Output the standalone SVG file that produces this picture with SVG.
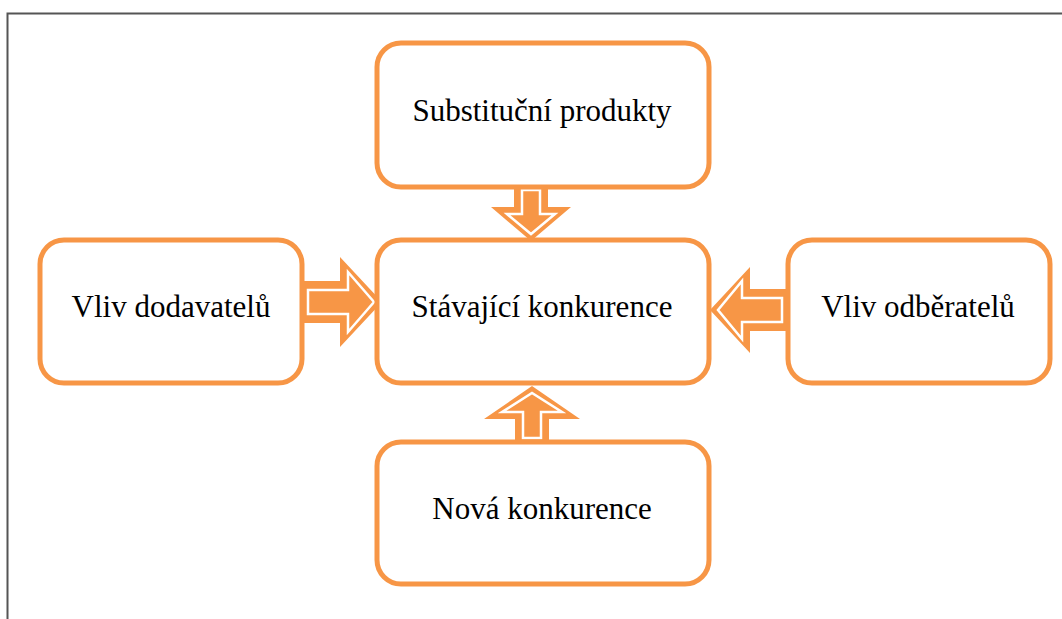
<svg xmlns="http://www.w3.org/2000/svg" width="1062" height="619" viewBox="0 0 1062 619">
<style>
.box{fill:#fff;stroke:#F79646;stroke-width:5}
.lbl{font-family:"Liberation Serif","Times New Roman",serif;font-size:31px;fill:#000;text-anchor:middle;dominant-baseline:central}
.arr{fill:#F79646}
.inner{fill:none;stroke:#fff;stroke-width:2.5;stroke-linejoin:miter}
</style>
<rect width="1062" height="619" fill="#fff"/>
<path d="M7.5 619 V13.5 H1062" fill="none" stroke="#555" stroke-width="2"/>
<g id="connectors">
<g id="arrow-top">
<path class="arr" d="M514 187 H548 V207 H571 L531 241 L491 207 H514 Z"/>
<path class="inner" d="M522 190 H540 V214 H555 L531 234 L507 214 H522 Z"/>
</g>
<g id="arrow-bottom">
<path class="arr" d="M515 442 H549 V419 H580 L532 386 L484 419 H515 Z"/>
<path class="inner" d="M523 438 H541 V412 H562 L532 393 L502 412 H523 Z"/>
</g>
<g id="arrow-left">
<path class="arr" d="M302 281 H340 V257 L382 302 L340 347 V323 H302 Z"/>
<path class="inner" d="M308 290 H348 V272 L374 302 L348 332 V314 H308 Z"/>
</g>
<g id="arrow-right">
<path class="arr" d="M788 289 H750 V267 L710 310 L750 353 V331 H788 Z"/>
<path class="inner" d="M782 298 H742 V281 L718 310 L742 339 V322 H782 Z"/>
</g>
</g>
<g id="node-top">
<rect class="box" x="377" y="43" width="332" height="144" rx="24"/>
<text class="lbl" x="542" y="110">Substituční produkty</text>
</g>
<g id="node-center">
<rect class="box" x="377" y="240" width="332" height="143" rx="24"/>
<text class="lbl" x="542" y="306">Stávající konkurence</text>
</g>
<g id="node-left">
<rect class="box" x="40" y="240" width="262" height="143" rx="24"/>
<text class="lbl" x="171" y="306">Vliv dodavatelů</text>
</g>
<g id="node-right">
<rect class="box" x="788" y="240" width="262" height="143" rx="24"/>
<text class="lbl" x="918" y="306">Vliv odběratelů</text>
</g>
<g id="node-bottom">
<rect class="box" x="377" y="442" width="332" height="142" rx="24"/>
<text class="lbl" x="542" y="508">Nová konkurence</text>
</g>
</svg>
